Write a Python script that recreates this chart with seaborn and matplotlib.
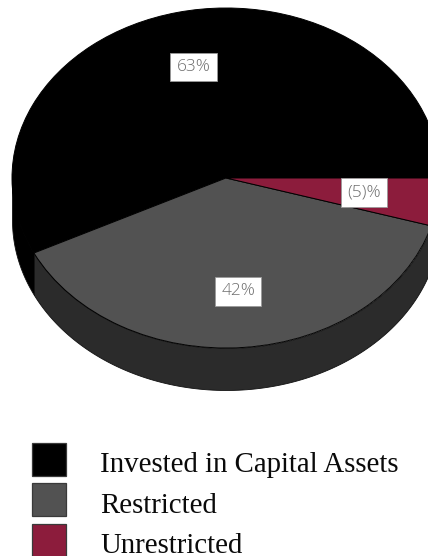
import numpy as np
import matplotlib
matplotlib.use("Agg")
import matplotlib.pyplot as plt
from matplotlib.patches import Patch, Rectangle
from matplotlib.legend_handler import HandlerPatch
import seaborn as sns

categories = ["Invested in Capital Assets", "Restricted", "Unrestricted"]
values = [63, 42, -5]
value_labels = ["63%", "42%", "(5)%"]
top_colors = ["#000000", "#525252", "#8c1c3c"]
side_colors = ["#000000", "#2b2b2b", "#5e1228"]

sns.set_theme(style="white")
plt.rcParams["font.family"] = ["Liberation Serif", "DejaVu Serif"]

W, H = 428, 556
CX, CY = 226, 178      # pie centre in pixels from the top left
RX, RY = 214, 170      # ellipse radii of the tilted disc
DEPTH = 42 / RY        # rim height in axis units

fig = plt.figure(figsize=(W / 100, H / 100), dpi=100, facecolor="white")
ax = fig.add_axes([0, 0, 1, 1])

sizes = np.abs(values)

# Rim of the disc: only the front half (180-360 degrees) is visible
edges = np.concatenate([[0], np.cumsum(sizes) / sizes.sum() * 360])
for start, stop, color in zip(edges[:-1], edges[1:], side_colors):
    lo, hi = max(start, 180), min(stop, 360)
    if hi <= lo:
        continue
    t = np.radians(np.linspace(lo, hi, 120))
    ax.fill_between(np.cos(t), np.sin(t), np.sin(t) - DEPTH,
                    facecolor=color, edgecolor="#111111", linewidth=0.6, zorder=1)

wedges, label_texts = ax.pie(
    sizes, colors=top_colors, startangle=0, counterclock=True, radius=1,
    labels=value_labels, labeldistance=0.67,
    wedgeprops={"edgecolor": "#000000", "linewidth": 0.7, "zorder": 2},
)
for lab in label_texts:
    lab.set(ha="center", va="center", fontsize=12.5, color="#6e6e6e",
            family=["Open Sans", "DejaVu Sans"], fontweight="light", zorder=5,
            bbox={"boxstyle": "square,pad=0.36", "facecolor": "white",
                  "edgecolor": "#9a9a9a", "linewidth": 0.6})
# The narrow wedge's label sits a little further in so its box stays clear of the edge
x5, y5 = label_texts[2].get_position()
label_texts[2].set_position((x5 - 3.5 / RX, y5 + 1.5 / RY))

# Stretch the circle into the tilted ellipse, with the view running off the right edge
ax.set_aspect("auto")
ax.set_xlim(-CX / RX, (W - CX) / RX)
ax.set_ylim(-(H - CY) / RY, CY / RY)
ax.axis("off")

FS = 20.8
px = FS * 100 / 72
SWATCH_W, SWATCH_H = 34 * 0.72, 33 * 0.72   # swatch size in points


def swatch(legend, orig_handle, xdescent, ydescent, width, height, fontsize):
    # Fixed-size square, raised slightly against the text baseline
    return Rectangle((-xdescent, -ydescent + 0.6), SWATCH_W, SWATCH_H)


handles = [Patch(facecolor=c, edgecolor="#3a3a3a", linewidth=0.9) for c in top_colors]
ax.legend(
    handles, categories, loc="upper left",
    bbox_to_anchor=(32 / W, 1 - 448 / H), bbox_transform=fig.transFigure,
    frameon=False, fontsize=FS, borderpad=0, borderaxespad=0,
    handlelength=34 / px, handleheight=33 / px,
    handletextpad=34 / px, labelspacing=10.6 / px,
    labelcolor="#0a0a0a",
    handler_map={Patch: HandlerPatch(patch_func=swatch)},
)

fig.savefig("out.png", dpi=100, facecolor="white")
